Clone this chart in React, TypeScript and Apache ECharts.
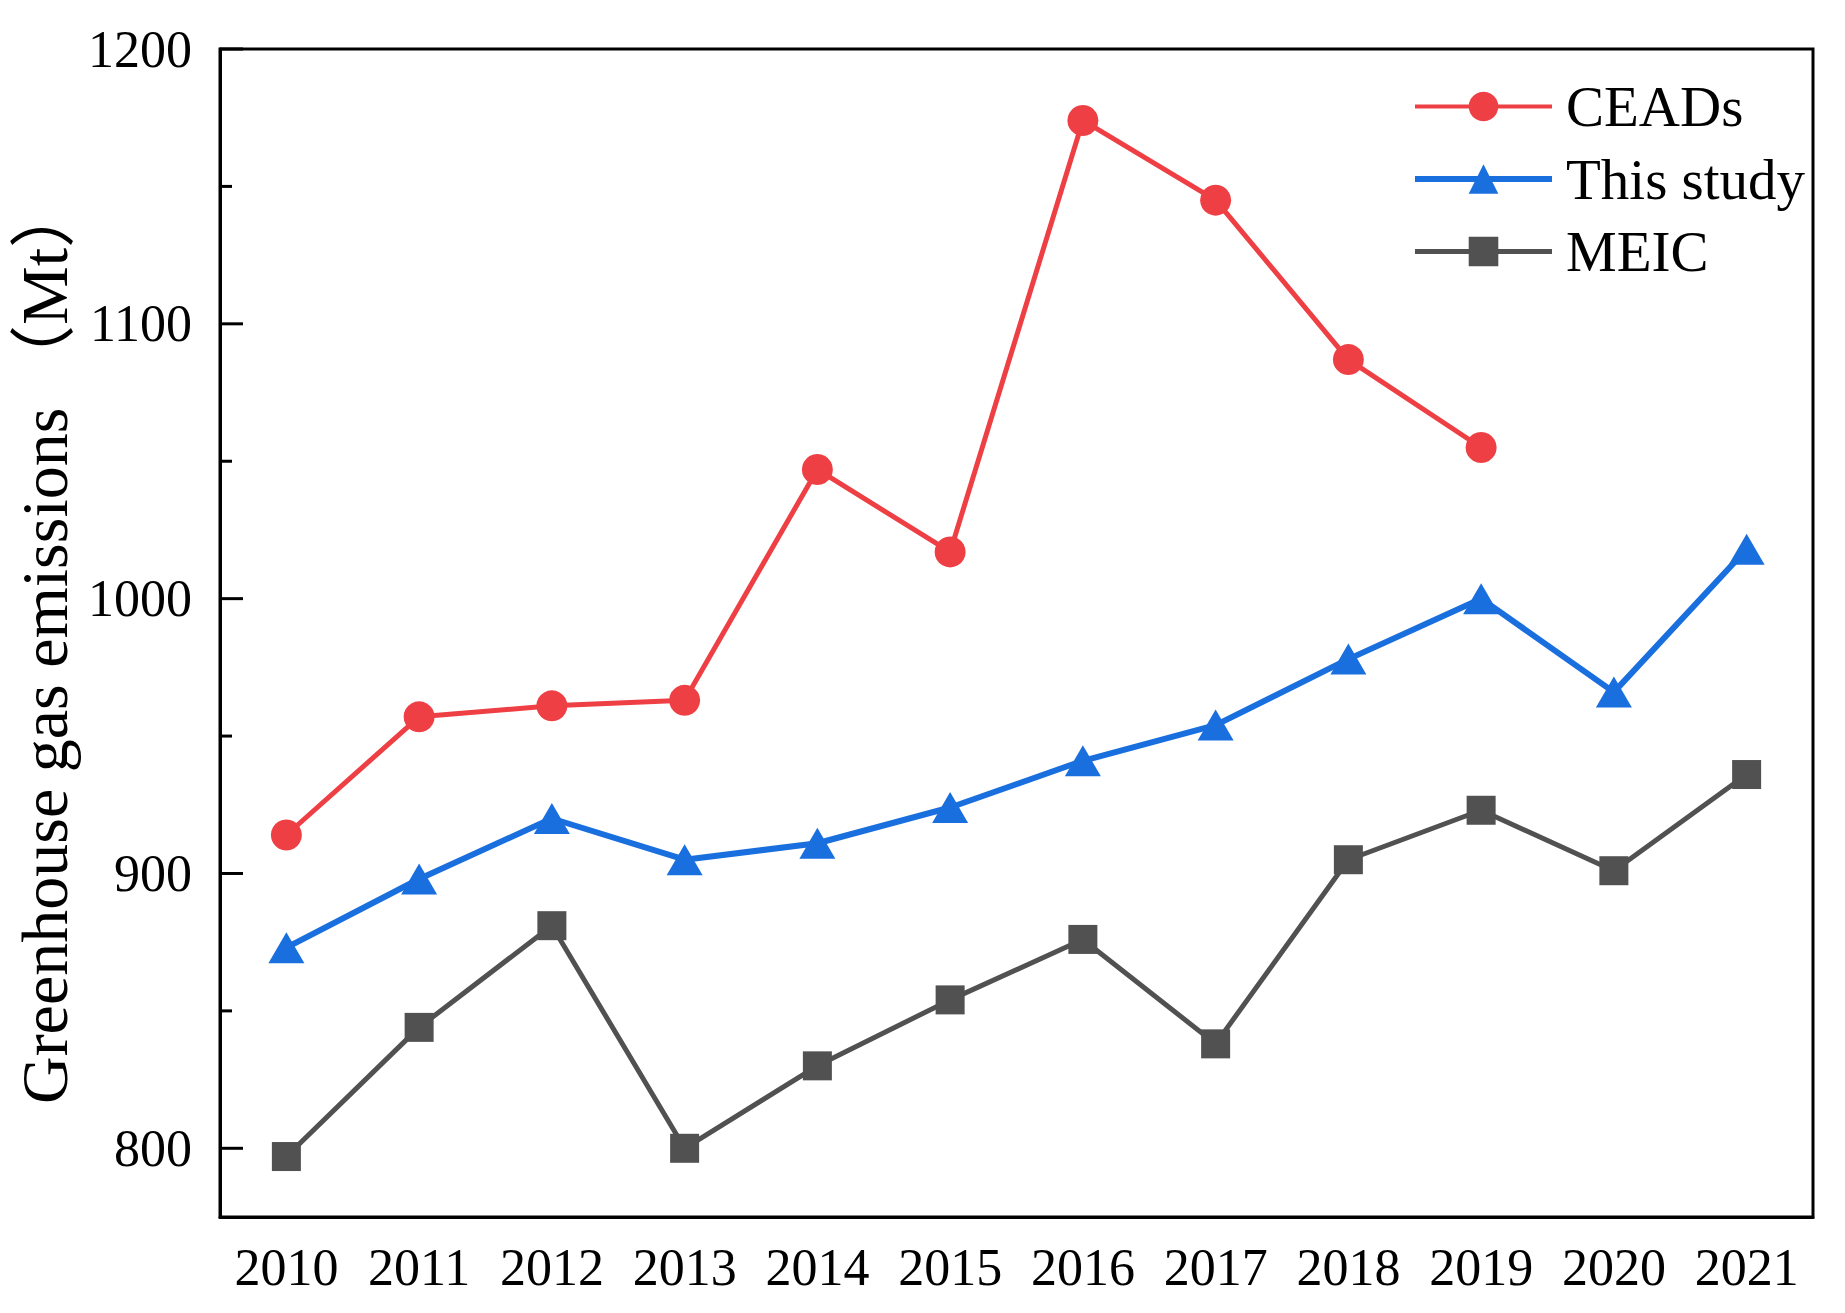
import React, { useEffect, useRef } from "react";
import * as echarts from "echarts";

const years = ["2010", "2011", "2012", "2013", "2014", "2015", "2016", "2017", "2018", "2019", "2020", "2021"];
const ceads = [914, 957, 961, 963, 1047, 1017, 1174, 1145, 1087, 1055, null, null];
const thisStudy = [873, 898, 920, 905, 911, 924, 941, 954, 978, 1000, 966, 1018];
const meic = [797, 844, 881, 800, 830, 854, 876, 838, 905, 923, 901, 936];
const yMajorTicks = [800, 900, 1000, 1100, 1200];
const yMinorTicks = [850, 950, 1050, 1150];

const RED = "#EE4044";
const BLUE = "#1A6FDF";
const GRAY = "#515151";
const FONT = '"Times New Roman", "Liberation Serif", "Noto Sans CJK SC", serif';

export default function App() {
  const ref = useRef<HTMLDivElement>(null);
  useEffect(() => {
    document.body.style.margin = "0";
    const chart = echarts.init(ref.current!, null, { renderer: "svg" });
    const tickData = [
      ...yMajorTicks.map((v) => [0, v, 1]),
      ...yMinorTicks.map((v) => [0, v, 0]),
    ];
    chart.setOption({
      animation: false,
      backgroundColor: "#fff",
      grid: {
        left: 220,
        right: 32,
        top: 49,
        bottom: 96,
        show: true,
        borderColor: "#000",
        borderWidth: 3,
        containLabel: false,
      },
      legend: {
        orient: "vertical",
        left: 1412,
        top: 78,
        padding: 0,
        itemWidth: 137,
        itemHeight: 37,
        itemGap: 15.5,
        data: [
          { name: "CEADs", lineStyle: { width: 4, color: RED } },
          { name: "This study", lineStyle: { width: 6, color: BLUE } },
          { name: "MEIC", lineStyle: { width: 5, color: GRAY } },
        ],
        textStyle: {
          fontFamily: FONT,
          fontSize: 57,
          lineHeight: 57,
          color: "#000",
          padding: [0, 0, 0, 9],
        },
      },
      xAxis: {
        type: "category",
        data: years,
        boundaryGap: true,
        axisLine: { lineStyle: { color: "#000", width: 3 } },
        axisTick: { inside: true, alignWithLabel: true, length: 25, lineStyle: { color: "#000", width: 3 } },
        axisLabel: { fontFamily: FONT, fontSize: 52, color: "#000", margin: 24, interval: 0 },
        splitLine: { show: false },
      },
      yAxis: {
        type: "value",
        min: 775,
        max: 1200,
        interval: 25,
        name: "Greenhouse gas emissions （Mt）",
        nameLocation: "middle",
        nameGap: 133,
        nameRotate: 90,
        nameTextStyle: { fontFamily: FONT, fontSize: 66, color: "#000", padding: [0, 20, 0, 0] },
        axisLine: { show: true, lineStyle: { color: "#000", width: 3 } },
        axisTick: { show: false },
        axisLabel: {
          fontFamily: FONT,
          fontSize: 52,
          color: "#000",
          margin: 28,
          formatter: (v: number) => (v % 100 === 0 ? String(v) : ""),
        },
        splitLine: { show: false },
      },
      series: [
        {
          name: "CEADs",
          type: "line",
          data: ceads,
          symbol: "circle",
          symbolSize: 31,
          color: RED,
          lineStyle: { width: 5, color: RED },
          itemStyle: { color: RED },
          connectNulls: false,
          z: 3,
        },
        {
          name: "This study",
          type: "line",
          data: thisStudy,
          symbol: "triangle",
          symbolSize: [36, 31],
          color: BLUE,
          lineStyle: { width: 6, color: BLUE },
          itemStyle: { color: BLUE },
          z: 3,
        },
        {
          name: "MEIC",
          type: "line",
          data: meic,
          symbol: "rect",
          symbolSize: 29,
          color: GRAY,
          lineStyle: { width: 5, color: GRAY },
          itemStyle: { color: GRAY },
          z: 3,
        },
        {
          type: "custom",
          silent: true,
          clip: false,
          z: 5,
          encode: { x: 0, y: 1 },
          data: tickData,
          renderItem: (params: any, api: any) => {
            const y = api.coord([0, api.value(1)])[1];
            const x0 = params.coordSys.x;
            const len = api.value(2) === 1 ? 23 : 12;
            return {
              type: "line",
              shape: { x1: x0, y1: y, x2: x0 + len, y2: y },
              style: { stroke: "#000", lineWidth: 3 },
            };
          },
        },
      ],
    });
    return () => chart.dispose();
  }, []);
  return <div ref={ref} style={{ width: 1845, height: 1313 }} />;
}
